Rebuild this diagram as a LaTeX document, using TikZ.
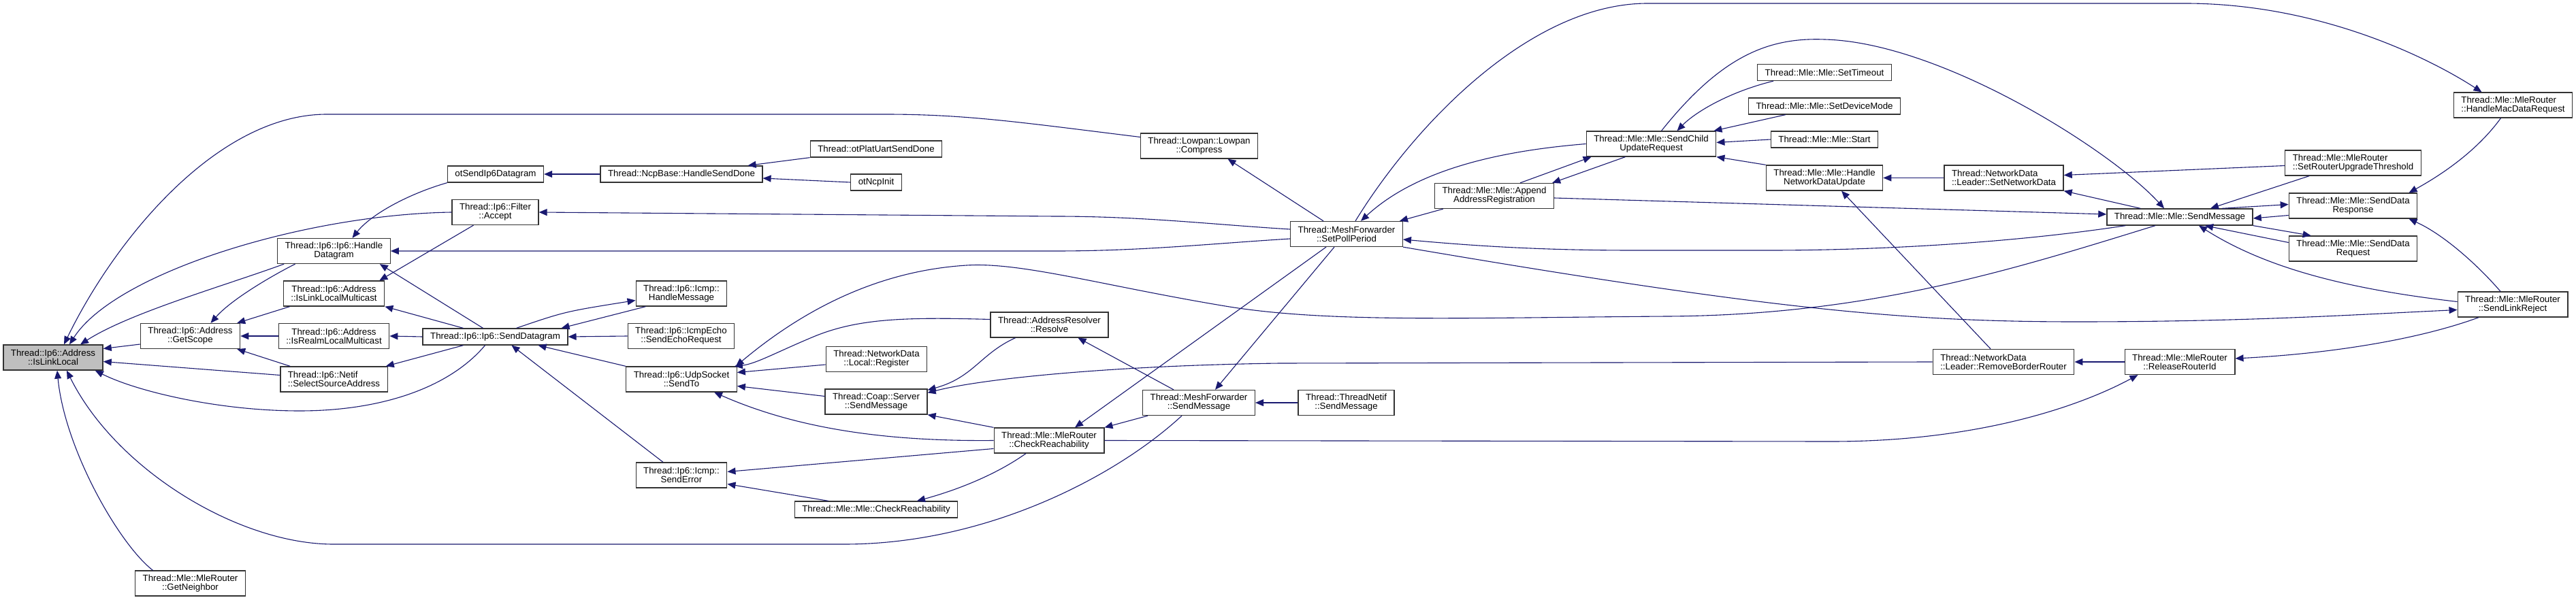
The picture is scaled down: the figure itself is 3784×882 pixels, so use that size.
\documentclass[tikz,border=0pt]{standalone}
\usepackage{fontspec}
\setmainfont{Liberation Sans}
\usetikzlibrary{arrows.meta}
\definecolor{edgeblue}{HTML}{191970}

\begin{document}
\begin{tikzpicture}[
  x=1pt, y=-1pt,
  fn/.style={rectangle, draw=black!80, line width=1.3pt, fill=white, inner xsep=11pt, inner ysep=3pt, minimum height=24pt, align=center, font=\fontsize{13.3}{13}\selectfont},
  fn2/.style={fn, minimum height=37pt},
  callarrow/.style={draw=edgeblue, line width=1.1pt, -{Triangle[length=12pt,width=10pt]}}
  ]
  \fill[white] (0,0) rectangle (3784,882);
  \useasboundingbox (0,0) rectangle (3784,882);

  % ========== functions ==========
  \node[fn2, fill=black!25] (isll) at (78,525.5) {Thread::Ip6::Address\\::IsLinkLocal};
  \node[fn2] (getscope) at (279.5,494) {Thread::Ip6::Address\\::GetScope};
  \node[fn2] (getnb) at (279.5,857.5) {Thread::Mle::MleRouter\\::GetNeighbor};
  \node[fn2] (handledg) at (490.5,369) {Thread::Ip6::Ip6::Handle\\Datagram};
  \node[fn2] (isllm) at (490.5,431.5) {Thread::Ip6::Address\\::IsLinkLocalMulticast};
  \node[fn2] (isrlm) at (490.5,494) {Thread::Ip6::Address\\::IsRealmLocalMulticast};
  \node[fn2, align=left] (selsrc) at (490.5,557.5) {Thread::Ip6::Netif\\::SelectSourceAddress};
  \node[fn] (otsend) at (728,256) {otSendIp6Datagram};
  \node[fn2] (accept) at (727.5,312) {Thread::Ip6::Filter\\::Accept};
  \node[fn] (senddg) at (727.5,495) {Thread::Ip6::Ip6::SendDatagram};
  \node[fn] (senddone) at (1001,256) {Thread::NcpBase::HandleSendDone};
  \node[fn2] (icmphm) at (1001,431.5) {Thread::Ip6::Icmp::\\HandleMessage};
  \node[fn2] (echoreq) at (1000.5,494) {Thread::Ip6::IcmpEcho\\::SendEchoRequest};
  \node[fn2] (sendto) at (1001,557.5) {Thread::Ip6::UdpSocket\\::SendTo};
  \node[fn2] (senderr) at (1001,698.5) {Thread::Ip6::Icmp::\\SendError};
  \node[fn] (uartdone) at (1287,219) {Thread::otPlatUartSendDone};
  \node[fn] (ncpinit) at (1287,268) {otNcpInit};
  \node[fn2] (localreg) at (1287.5,528) {Thread::NetworkData\\::Local::Register};
  \node[fn2] (coapsend) at (1287,590.5) {Thread::Coap::Server\\::SendMessage};
  \node[fn] (mlecheck) at (1287,749) {Thread::Mle::Mle::CheckReachability};
  \node[fn2] (resolve) at (1541.5,477.5) {Thread::AddressResolver\\::Resolve};
  \node[fn2] (routercheck) at (1541,647.5) {Thread::Mle::MleRouter\\::CheckReachability};
  \node[fn2] (compress) at (1761.5,214.5) {Thread::Lowpan::Lowpan\\::Compress};
  \node[fn2] (meshsend) at (1761,592) {Thread::MeshForwarder\\::SendMessage};
  \node[fn2] (setpoll) at (1978,344) {Thread::MeshForwarder\\::SetPollPeriod};
  \node[fn2] (netifsend) at (1977.5,592) {Thread::ThreadNetif\\::SendMessage};
  \node[fn2] (appendreg) at (2195,288) {Thread::Mle::Mle::Append\\AddressRegistration};
  \node[fn2] (childupd) at (2425.5,211.5) {Thread::Mle::Mle::SendChild\\UpdateRequest};
  \node[fn] (settimeout) at (2680,106.5) {Thread::Mle::Mle::SetTimeout};
  \node[fn] (setdevmode) at (2680,156) {Thread::Mle::Mle::SetDeviceMode};
  \node[fn] (mlestart) at (2680,205) {Thread::Mle::Mle::Start};
  \node[fn2] (handlend) at (2680,261.5) {Thread::Mle::Mle::Handle\\NetworkDataUpdate};
  \node[fn2, align=left] (setnd) at (2943.5,261.5) {Thread::NetworkData\\::Leader::SetNetworkData};
  \node[fn2, align=left] (rmbr) at (2943,532) {Thread::NetworkData\\::Leader::RemoveBorderRouter};
  \node[fn] (mlesend) at (3202,319) {Thread::Mle::Mle::SendMessage};
  \node[fn2] (releaseid) at (3202,532) {Thread::Mle::MleRouter\\::ReleaseRouterId};
  \node[fn2, align=left] (upgrade) at (3456.5,239.5) {Thread::Mle::MleRouter\\::SetRouterUpgradeThreshold};
  \node[fn2] (dataresp) at (3456.5,302.5) {Thread::Mle::Mle::SendData\\Response};
  \node[fn2] (datareq) at (3456.5,365.5) {Thread::Mle::Mle::SendData\\Request};
  \node[fn2, align=left] (macreq) at (3691.5,154.5) {Thread::Mle::MleRouter\\::HandleMacDataRequest};
  \node[fn2] (linkrej) at (3691,447.5) {Thread::Mle::MleRouter\\::SendLinkReject};

  % ========== calls into IsLinkLocal ==========
  \draw[callarrow] ([yshift=13pt]compress.west) .. controls (1500,180) and (1420,168) .. (1300,168) -- (480,168) .. controls (320,168) and (170,350) .. ([xshift=16pt]isll.north);
  \draw[callarrow] (accept.west) .. controls (450,315) and (170,400) .. ([xshift=24pt]isll.north);
  \draw[callarrow] ([xshift=10pt]handledg.south west) .. controls (330,420) and (190,460) .. ([xshift=40pt]isll.north);
  \draw[callarrow] ([yshift=-12pt]getscope.west) -- ([yshift=13pt]isll.east);
  \draw[callarrow] ([yshift=6pt]selsrc.west) -- ([yshift=-6pt]isll.east);
  \draw[callarrow] ([xshift=-15pt]senddg.south) .. controls (660,570) and (560,604) .. (440,604) .. controls (320,604) and (200,575) .. ([xshift=-12pt]isll.south east);
  \draw[callarrow] ([xshift=-55pt]getnb.north) .. controls (175,800) and (95,660) .. ([xshift=6pt]isll.south);
  \draw[callarrow] ([xshift=-25pt]meshsend.south) .. controls (1640,700) and (1450,800) .. (1240,800) -- (490,800) .. controls (350,800) and (170,690) .. ([xshift=20pt]isll.south);

  % ========== Ip6 layer ==========
  \draw[callarrow] ([xshift=-57pt]handledg.south) .. controls (400,405) and (340,440) .. ([xshift=30pt]getscope.north);
  \draw[callarrow] ([xshift=10pt]isllm.south west) -- ([xshift=-5pt]getscope.north east);
  \draw[callarrow] (isrlm.west) -- (getscope.east);
  \draw[callarrow] ([xshift=15pt]selsrc.north west) -- ([xshift=-5pt]getscope.south east);
  \draw[callarrow] (otsend.south west) .. controls (600,285) and (545,315) .. ([xshift=27pt]handledg.north);
  \draw[callarrow] ([xshift=-18pt]senddg.north) -- ([xshift=-16pt]handledg.south east);
  \draw[callarrow] ([yshift=-7pt]setpoll.west) .. controls (1780,358) and (1680,369) .. (1550,369) -- (handledg.east);
  \draw[callarrow] ([yshift=7pt]setpoll.west) .. controls (1780,330) and (1680,318) .. (1550,318) -- (accept.east);
  \draw[callarrow] ([xshift=-32pt]accept.south) -- ([xshift=-8pt]isllm.north east);
  \draw[callarrow] ([xshift=60pt]senddg.north west) -- (isllm.south east);
  \draw[callarrow] (senddg.west) -- (isrlm.east);
  \draw[callarrow] ([xshift=60pt]senddg.south west) -- ([xshift=-3pt]selsrc.north east);
  \draw[callarrow] ([xshift=31pt]senddg.north) .. controls (830,458) .. ([yshift=-10pt]icmphm.west);
  \draw[callarrow] ([xshift=15pt]icmphm.south west) -- ([xshift=-10pt]senddg.north east);
  \draw[callarrow] (echoreq.west) -- (senddg.east);
  \draw[callarrow] (sendto.north west) -- ([xshift=63pt]senddg.south);
  \draw[callarrow] ([xshift=-27pt]senderr.north) -- ([xshift=24pt]senddg.south);

  % ========== Ncp ==========
  \draw[callarrow] (senddone.west) -- (otsend.east);
  \draw[callarrow] (uartdone.south west) -- ([xshift=-22pt]senddone.north east);
  \draw[callarrow] (ncpinit.west) -- ([yshift=-6pt]senddone.east);

  % ========== UdpSocket / Coap ==========
  \draw[callarrow] ([yshift=8pt]resolve.west) .. controls (1330,466) and (1260,468) .. (1195,495) .. controls (1140,518) and (1110,535) .. ([xshift=-4pt]sendto.north east);
  \draw[callarrow] ([xshift=-36pt]mlesend.south) .. controls (2960,395) and (2750,463) .. (2450,465) .. controls (2150,467) and (1950,475) .. (1800,450) .. controls (1620,420) and (1500,385) .. (1420,390) .. controls (1290,398) and (1180,455) .. ([xshift=-2pt]sendto.north east);
  \draw[callarrow] ([yshift=-8pt]localreg.west) -- ([yshift=10pt]sendto.east);
  \draw[callarrow] ([yshift=8pt]coapsend.west) -- ([yshift=-10pt]sendto.east);
  \draw[callarrow] (routercheck.west) .. controls (1300,649) and (1170,630) .. ([xshift=48pt]sendto.south);
  \draw[callarrow] ([xshift=-50pt]resolve.south) .. controls (1440,520) and (1430,555) .. ([yshift=-2pt]coapsend.north east);
  \draw[callarrow] (rmbr.west) -- (1880,534) .. controls (1650,537) and (1450,555) .. ([yshift=-6pt]coapsend.north east);
  \draw[callarrow] (routercheck.north west) -- (coapsend.south east);

  % ========== CheckReachability ==========
  \draw[callarrow] ([xshift=-30pt]setpoll.south) -- ([xshift=38pt]routercheck.north);
  \draw[callarrow] ([xshift=8pt]meshsend.south west) -- (routercheck.north east);
  \draw[callarrow] (routercheck.east) -- (2690,649) .. controls (2900,649) and (3050,600) .. ([xshift=20pt]releaseid.south west);
  \draw[callarrow] ([yshift=-12pt]routercheck.west) -- ([yshift=5pt]senderr.east);
  \draw[callarrow] ([xshift=-34pt]routercheck.south) .. controls (1460,700) and (1400,722) .. ([xshift=60pt]mlecheck.north);
  \draw[callarrow] ([xshift=50pt]mlecheck.north west) -- ([yshift=-13pt]senderr.east);

  % ========== MeshForwarder ==========
  \draw[callarrow] ([xshift=-37pt]meshsend.north) -- ([xshift=42pt]resolve.south);
  \draw[callarrow] ([xshift=-18pt]setpoll.south) -- ([xshift=24pt]meshsend.north);
  \draw[callarrow] (netifsend.west) -- (meshsend.east);
  \draw[callarrow] ([xshift=-34pt]setpoll.north) -- ([xshift=42pt]compress.south);
  \draw[callarrow] ([xshift=13pt]setpoll.north) .. controls (2080,180) and (2250,5) .. (2420,5) -- (3210,5) .. controls (3400,5) and (3560,80) .. ([xshift=-46pt]macreq.north);
  \draw[callarrow] (childupd.west) .. controls (2200,222) and (2080,250) .. ([xshift=21pt]setpoll.north);
  \draw[callarrow] ([xshift=13pt]appendreg.south west) -- ([xshift=-5pt]setpoll.north east);
  \draw[callarrow] ([xshift=28pt]mlesend.south west) .. controls (2950,358) and (2750,368) .. (2600,368) -- (2400,368) .. controls (2250,368) and (2150,360) .. ([yshift=-8pt]setpoll.east);
  \draw[callarrow] (setpoll.south east) .. controls (2600,455) and (2800,473) .. (3050,473) .. controls (3300,473) and (3450,463) .. ([yshift=-8pt]linkrej.west);

  % ========== Mle ==========
  \draw[callarrow] ([xshift=38pt]appendreg.north) -- ([xshift=8pt]childupd.south west);
  \draw[callarrow] ([xshift=-38pt]childupd.south) -- ([xshift=-3pt]appendreg.north east);
  \draw[callarrow] ([yshift=-3pt]appendreg.east) -- ([yshift=4pt]mlesend.west);
  \draw[callarrow] ([xshift=15pt]childupd.north) .. controls (2530,80) and (2600,55) .. (2680,58) .. controls (2850,62) and (3100,220) .. ([xshift=-23pt]mlesend.north);
  \draw[callarrow] ([xshift=24pt]settimeout.south west) .. controls (2540,135) and (2490,165) .. ([xshift=38pt]childupd.north);
  \draw[callarrow] ([xshift=55pt]setdevmode.south west) -- ([xshift=-4pt]childupd.north east);
  \draw[callarrow] (mlestart.west) -- ([yshift=2pt]childupd.east);
  \draw[callarrow] (handlend.north west) -- (childupd.south east);
  \draw[callarrow] (setnd.west) -- (handlend.east);
  \draw[callarrow] ([xshift=-19pt]rmbr.north) -- ([xshift=25pt]handlend.south);
  \draw[callarrow] ([yshift=-4pt]upgrade.west) -- ([yshift=4pt]setnd.east);
  \draw[callarrow] ([xshift=50pt]mlesend.north west) -- (setnd.south east);
  \draw[callarrow] ([xshift=36pt]upgrade.south west) -- ([xshift=45pt]mlesend.north);
  \draw[callarrow] ([yshift=-14pt]dataresp.west) -- ([yshift=-2pt]mlesend.east);
  \draw[callarrow] ([xshift=62pt]mlesend.north) -- ([yshift=2pt]dataresp.west);
  \draw[callarrow] (mlesend.south east) -- ([xshift=33pt]datareq.north west);
  \draw[callarrow] ([yshift=9pt]datareq.west) -- ([xshift=37pt]mlesend.south);
  \draw[callarrow] ([yshift=4pt]linkrej.west) .. controls (3450,425) and (3330,395) .. ([xshift=28pt]mlesend.south);
  \draw[callarrow] ([xshift=-18pt]macreq.south) .. controls (3640,220) and (3590,255) .. ([xshift=82pt]dataresp.north);
  \draw[callarrow] ([xshift=-18pt]linkrej.north) .. controls (3640,390) and (3590,345) .. ([xshift=82pt]dataresp.south);
  \draw[callarrow] ([xshift=-50pt]linkrej.south) .. controls (3550,500) and (3420,520) .. ([yshift=5pt]releaseid.east);
  \draw[callarrow] (releaseid.west) -- (rmbr.east);
\end{tikzpicture}
\end{document}
